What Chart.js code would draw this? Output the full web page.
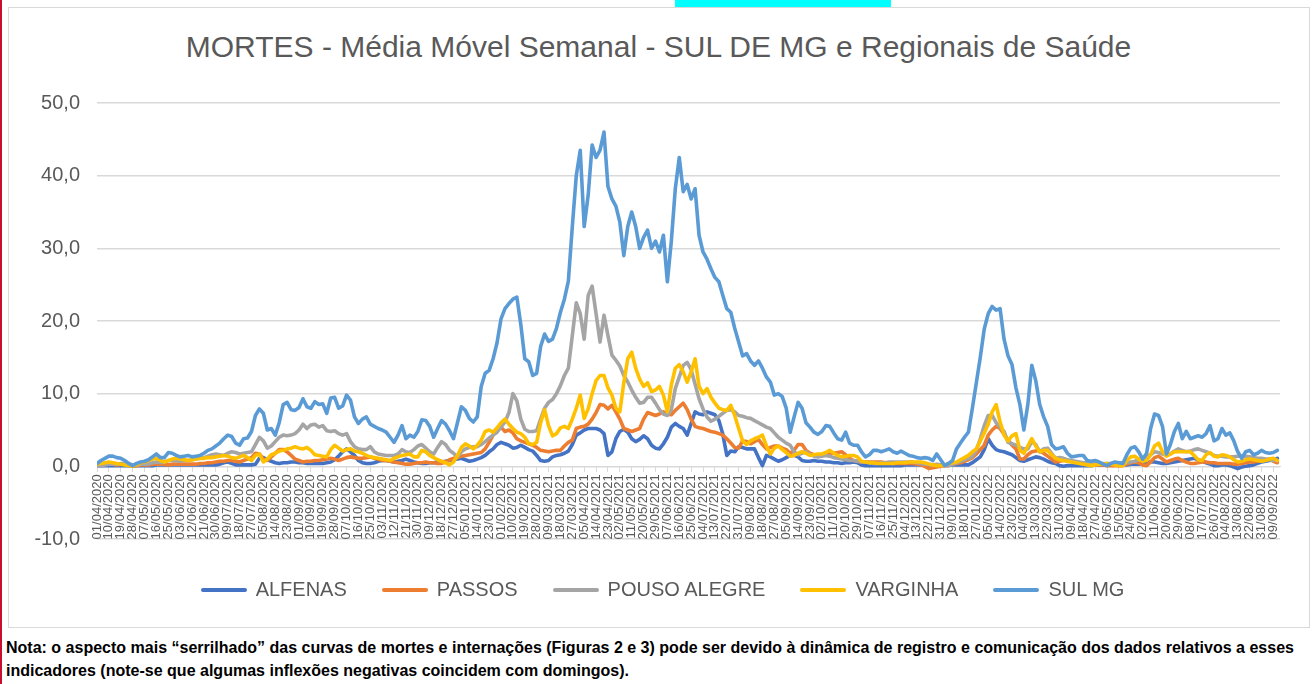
<!DOCTYPE html>
<html lang="pt-BR">
<head>
<meta charset="utf-8">
<title>MORTES - Média Móvel Semanal - SUL DE MG e Regionais de Saúde</title>
<script src="https://cdn.jsdelivr.net/npm/chart.js@4.4.1/dist/chart.umd.min.js"></script>
<style>
  html, body { margin:0; padding:0; background:#fff; }
  body { width:1312px; height:684px; position:relative; overflow:hidden; font-family:"Liberation Sans", Arial, sans-serif; }
  #redline { position:absolute; left:0; top:0; width:2px; height:684px; background:#C8102E; }
  #hdr { position:absolute; left:24px; top:-18px; font-weight:bold; font-size:17px; line-height:20px; color:#000; white-space:nowrap; }
  #hl { position:absolute; left:675px; top:0; width:216px; height:8px; background:#00FFFF; }
  #frame { position:absolute; left:8px; top:7px; width:1300px; height:619px; border:1.5px solid #D9D9D9; }
  #title { position:absolute; left:9px; top:30px; width:1299px; text-align:center; font-size:30px; color:#595959; white-space:nowrap; }
  #chart { position:absolute; left:9px; top:8px; }
  #legend { position:absolute; left:9px; top:578px; width:1307px; display:flex; justify-content:center; gap:35px; font-size:20px; color:#595959; }
  .item { display:flex; align-items:center; white-space:nowrap; }
  .sw { width:46px; height:4px; margin-right:9px; border-radius:2px; }
  #note { position:absolute; left:6px; top:636px; font-weight:bold; color:#000; line-height:23px; font-size:15px; }
  #note span { white-space:nowrap; }
</style>
</head>
<body>
<div id="redline"></div>
<div id="hdr">Figura 2 – Média móvel semanal de mortes por COVID-19: Regionais de Saúde (SRS),</div>
<div id="hl"></div>
<div id="frame"></div>
<div id="title">MORTES - Média Móvel Semanal - SUL DE MG e Regionais de Saúde</div>
<canvas id="chart" width="1299" height="619"></canvas>
<div id="legend"></div>
<div id="note"><span id="n1">Nota: o aspecto mais “serrilhado” das curvas de mortes e internações (Figuras 2 e 3) pode ser devido à dinâmica de registro e comunicação dos dados relativos a esses</span><br><span>indicadores (note-se que algumas inflexões negativas coincidem com domingos).</span></div>
<script>
// ---- Data (7-day moving average of deaths), sampled every 3 days from 01/04/2020 ----
const seriesNames = ["ALFENAS", "PASSOS", "POUSO ALEGRE", "VARGINHA", "SUL MG"];
const seriesColors = ["#4472C4", "#ED7D31", "#A5A5A5", "#FFC000", "#5B9BD5"];

const tickLabels = [
 "01/04/2020","10/04/2020","19/04/2020","28/04/2020","07/05/2020","16/05/2020","25/05/2020","03/06/2020","12/06/2020","21/06/2020",
 "30/06/2020","09/07/2020","18/07/2020","27/07/2020","05/08/2020","14/08/2020","23/08/2020","01/09/2020","10/09/2020","19/09/2020",
 "28/09/2020","07/10/2020","16/10/2020","25/10/2020","03/11/2020","12/11/2020","21/11/2020","30/11/2020","09/12/2020","18/12/2020",
 "27/12/2020","05/01/2021","14/01/2021","23/01/2021","01/02/2021","10/02/2021","19/02/2021","28/02/2021","09/03/2021","18/03/2021",
 "27/03/2021","05/04/2021","14/04/2021","23/04/2021","02/05/2021","11/05/2021","20/05/2021","29/05/2021","07/06/2021","16/06/2021",
 "25/06/2021","04/07/2021","13/07/2021","22/07/2021","31/07/2021","09/08/2021","18/08/2021","27/08/2021","05/09/2021","14/09/2021",
 "23/09/2021","02/10/2021","11/10/2021","20/10/2021","29/10/2021","07/11/2021","16/11/2021","25/11/2021","04/12/2021","13/12/2021",
 "22/12/2021","31/12/2021","09/01/2022","18/01/2022","27/01/2022","05/02/2022","14/02/2022","23/02/2022","04/03/2022","13/03/2022",
 "22/03/2022","31/03/2022","09/04/2022","18/04/2022","27/04/2022","06/05/2022","15/05/2022","24/05/2022","02/06/2022","11/06/2022",
 "20/06/2022","29/06/2022","08/07/2022","17/07/2022","26/07/2022","04/08/2022","13/08/2022","22/08/2022","31/08/2022","09/09/2022"
];

const alfenas = [
 0.1,0.1,0.1,0.1,0.1,0.1,0.1,0.1,0.1,0.0,
 0.1,0.1,0.1,0.1,0.1,0.2,0.2,0.2,0.2,0.2,
 0.2,0.2,0.2,0.2,0.2,0.2,0.2,0.2,0.2,0.2,
 0.2,0.3,0.5,0.6,0.4,0.2,0.2,0.2,0.2,0.2,
 0.3,1.1,1.2,0.9,0.7,0.5,0.4,0.5,0.5,0.6,
 0.6,0.5,0.5,0.4,0.4,0.4,0.4,0.4,0.5,0.6,
 0.9,1.4,2.0,2.4,2.0,1.5,0.8,0.5,0.4,0.4,
 0.5,0.7,0.8,0.8,0.7,0.6,0.7,0.8,1.0,0.8,
 0.6,0.5,0.4,0.4,0.5,0.5,0.6,0.6,0.7,0.8,
 0.9,1.0,1.1,0.9,0.7,0.8,1.0,1.2,1.5,2.0,
 2.4,3.0,3.3,3.1,2.9,2.5,2.6,2.9,2.6,2.3,
 2.1,1.5,0.8,0.7,0.8,1.3,1.5,1.6,1.8,2.1,
 3.0,4.3,4.6,5.0,5.2,5.2,5.2,5.0,4.5,1.5,
 2.0,3.8,4.8,5.1,4.7,3.8,3.4,3.7,4.2,3.8,
 2.9,2.5,2.4,3.1,4.0,5.4,5.9,5.5,5.2,4.3,
 5.9,7.5,7.2,7.1,7.5,7.3,7.1,6.3,4.4,1.5,
 2.1,2.0,2.7,2.6,2.4,2.4,2.4,1.2,0.1,1.5,
 1.3,1.0,0.7,0.9,1.2,1.5,1.5,1.3,0.8,0.7,
 0.7,0.8,0.7,0.7,0.6,0.6,0.5,0.5,0.4,0.5,
 0.5,0.6,0.5,0.2,0.1,0.1,0.1,0.1,0.1,0.1,
 0.1,0.1,0.1,0.1,0.2,0.2,0.2,0.2,0.2,0.2,
 0.2,0.2,0.2,0.2,0.2,0.2,0.2,0.2,0.2,0.2,
 0.2,0.5,0.9,1.3,2.3,3.8,2.9,2.3,2.1,2.0,
 1.8,1.6,1.2,0.8,0.7,0.9,1.1,1.3,1.2,1.0,
 0.7,0.5,0.4,0.1,0.0,0.1,0.1,0.1,0.1,0.1,
 0.1,0.1,0.2,0.2,0.2,0.2,0.2,0.2,0.2,0.2,
 0.2,0.3,0.3,0.3,0.4,0.5,0.6,0.6,0.5,0.4,
 0.4,0.5,0.6,0.7,0.8,0.9,1.0,1.1,0.9,0.7,
 0.5,0.3,0.1,0.1,0.2,0.2,0.1,-0.1,-0.3,-0.1,
 0.0,0.1,0.2,0.4,0.6,0.7,0.8,0.9,1.1
];

const passos = [
 0.2,0.2,0.3,0.3,0.3,0.2,0.3,0.3,0.2,0.1,
 0.1,0.2,0.2,0.2,0.3,0.3,0.3,0.3,0.2,0.3,
 0.3,0.3,0.3,0.3,0.3,0.3,0.4,0.4,0.5,0.5,
 0.6,0.7,0.7,0.8,0.8,0.7,0.6,0.8,1.0,1.2,
 1.8,1.7,1.0,0.8,1.3,1.8,2.3,2.3,2.0,1.5,
 1.0,0.8,0.6,0.7,0.7,0.8,0.8,0.9,1.0,1.1,
 1.0,0.8,1.0,1.2,1.3,1.2,1.1,1.1,1.2,1.3,
 1.1,1.0,0.8,0.8,0.7,0.6,0.5,0.4,0.3,0.3,
 0.4,0.5,0.5,0.6,0.5,0.5,0.4,0.4,0.6,0.9,
 1.1,1.2,1.4,1.5,1.6,1.7,1.8,1.9,2.4,3.3,
 4.3,5.1,5.4,4.8,5.0,4.6,3.8,3.5,3.3,3.1,
 2.9,2.6,2.2,2.1,2.0,2.1,2.2,2.2,2.8,3.3,
 3.6,5.2,5.4,5.5,5.8,6.5,7.4,8.5,8.4,7.9,
 8.4,7.5,6.5,5.2,5.0,4.8,5.0,5.2,6.5,7.4,
 7.2,7.0,7.2,7.5,7.2,7.1,7.7,8.2,8.7,7.8,
 6.5,5.5,5.3,5.2,5.0,4.8,4.7,4.5,4.3,3.8,
 3.2,2.6,2.5,3.5,3.4,3.1,3.4,3.7,3.0,2.4,
 2.6,2.8,2.8,2.5,2.3,1.8,2.2,3.0,3.0,2.2,
 1.8,1.6,1.5,1.6,1.6,1.7,1.8,1.9,2.0,1.6,
 1.1,0.8,0.7,0.6,0.6,0.6,0.6,0.6,0.6,0.5,
 0.5,0.4,0.4,0.4,0.4,0.4,0.4,0.3,0.2,0.0,
 -0.3,-0.2,-0.1,0.0,0.1,0.1,0.3,0.4,0.5,0.7,
 0.9,1.2,1.7,2.3,2.9,4.3,5.0,5.5,5.2,4.4,
 3.6,2.9,2.4,1.0,1.0,1.6,2.0,2.1,2.2,1.8,
 1.4,1.0,0.6,0.7,0.8,0.8,0.7,0.6,0.5,0.5,
 0.4,0.3,0.3,0.2,0.2,0.1,0.1,0.1,0.1,0.1,
 0.3,0.5,0.6,0.5,0.2,0.1,0.6,1.2,1.4,1.0,
 0.6,0.8,1.0,1.1,0.8,0.6,0.4,0.4,0.5,0.6,
 0.6,0.5,0.5,0.4,0.4,0.4,0.4,0.3,0.3,0.4,
 0.5,0.6,0.6,0.7,0.8,0.9,1.0,0.7,0.5
];

const pousoAlegre = [
 0.1,0.1,0.2,0.3,0.3,0.3,0.4,0.4,0.3,0.2,
 0.2,0.3,0.3,0.3,0.5,0.6,0.5,0.6,0.8,0.8,
 0.8,0.7,0.8,0.8,0.9,1.0,1.1,1.2,1.4,1.6,
 1.7,1.6,1.5,1.8,2.0,1.9,1.7,1.8,1.9,2.0,
 3.0,4.0,3.5,2.5,2.8,3.4,4.0,4.3,4.2,4.3,
 4.5,5.0,5.8,5.2,5.7,5.8,5.4,5.6,4.9,4.8,
 4.9,4.5,4.3,4.5,3.4,2.7,2.4,2.3,2.3,2.7,
 2.0,1.7,1.6,1.5,1.5,1.5,1.7,2.3,2.0,1.9,
 2.3,2.8,3.0,2.5,2.0,1.7,2.6,3.4,3.0,2.2,
 1.8,1.3,2.0,2.4,2.6,2.7,2.7,3.0,3.4,3.9,
 4.3,4.7,5.4,6.1,7.4,10.0,9.0,6.5,5.1,4.8,
 4.8,4.9,6.5,8.0,8.8,9.2,10.0,11.1,12.5,13.5,
 18.0,22.5,21.0,17.5,23.5,24.8,21.0,17.1,20.8,18.0,
 15.3,14.6,13.8,12.5,11.6,10.5,9.5,8.7,8.8,9.5,
 9.5,8.7,7.8,7.2,7.0,7.8,10.7,12.3,13.9,14.3,
 13.3,11.3,9.3,7.9,6.8,6.2,6.5,6.9,7.3,7.7,
 7.8,7.5,7.0,6.9,6.7,6.6,6.3,6.0,5.7,5.4,
 5.2,4.6,4.0,3.6,3.2,2.9,2.0,1.6,1.8,2.0,
 1.6,1.4,1.3,1.4,1.5,1.4,1.2,1.1,1.0,0.9,
 0.8,0.8,0.7,0.6,0.6,0.5,0.4,0.4,0.5,0.5,
 0.6,0.6,0.6,0.6,0.6,0.6,0.6,0.5,0.4,0.3,
 0.3,0.2,0.3,0.2,0.2,0.1,0.3,0.5,0.7,0.9,
 1.1,1.4,2.2,3.8,5.6,7.0,7.0,6.0,5.4,4.8,
 3.3,3.1,2.9,2.6,2.4,2.4,3.4,3.0,2.0,2.4,
 2.5,1.8,1.1,1.2,1.1,0.9,0.8,0.7,0.6,0.5,
 0.4,0.4,0.4,0.4,0.4,0.4,0.4,0.4,0.5,0.5,
 0.5,0.6,0.7,0.9,1.1,1.3,1.6,2.0,1.9,1.7,
 1.5,1.7,2.1,2.4,2.2,2.0,2.1,2.3,2.4,2.2,
 2.0,1.8,1.5,1.4,1.4,1.3,1.3,1.3,1.4,1.4,
 1.4,1.3,1.2,1.1,1.1,1.0,0.9,0.8,0.8
];

const varginha = [
 0.3,0.4,0.5,0.6,0.5,0.4,0.3,0.2,0.1,0.0,
 0.2,0.5,0.6,0.8,1.0,1.1,0.8,0.6,0.8,1.0,
 1.1,1.0,0.9,0.8,0.9,1.0,1.1,1.1,1.2,1.2,
 1.3,1.4,1.5,1.4,1.2,1.1,1.3,1.5,1.2,0.8,
 1.5,1.7,0.6,1.0,1.6,1.8,2.1,2.2,2.4,2.5,
 2.7,2.5,2.4,2.6,2.2,1.6,1.5,1.4,1.3,2.3,
 2.9,2.5,2.1,2.3,2.4,2.1,2.0,1.8,1.5,1.3,
 1.2,1.1,1.0,0.9,0.8,1.1,1.3,1.5,1.6,1.7,
 1.3,1.3,2.2,2.0,1.5,1.2,0.9,0.7,0.5,0.2,
 0.6,1.5,2.6,3.1,2.8,2.4,2.9,3.6,4.8,5.0,
 4.7,5.3,6.0,6.5,5.8,5.2,4.7,4.5,4.0,3.1,
 3.0,3.3,6.0,7.8,5.6,4.2,4.5,5.3,5.5,5.2,
 6.5,8.0,9.8,6.6,7.9,10.0,11.8,12.5,12.5,10.8,
 9.8,8.0,7.5,11.5,14.8,15.7,13.5,12.0,11.0,11.5,
 10.3,10.5,11.0,9.8,7.5,11.2,13.5,14.0,13.0,11.6,
 13.0,14.8,11.0,10.0,10.7,9.5,8.7,8.0,7.8,7.7,
 8.4,7.0,5.2,3.5,3.0,3.5,3.8,4.0,4.3,2.8,
 1.7,2.5,2.8,2.3,1.9,1.4,1.5,1.8,2.0,1.8,
 1.5,1.6,1.7,1.7,1.9,2.2,1.8,1.5,1.3,1.4,
 1.5,1.5,1.3,0.7,0.6,0.5,0.5,0.4,0.4,0.4,
 0.4,0.4,0.5,0.5,0.5,0.6,0.6,0.6,0.6,0.5,
 0.3,0.2,0.1,0.1,0.2,0.4,0.5,0.6,0.9,1.2,
 1.5,2.0,2.4,3.5,4.6,5.8,7.5,8.5,6.1,4.3,
 3.5,4.2,4.5,2.2,1.8,2.8,3.8,2.8,2.0,2.2,
 2.2,1.6,1.1,0.9,0.8,0.7,0.6,0.5,0.4,0.3,
 0.2,0.1,0.2,0.3,0.3,0.4,0.3,0.2,0.1,0.1,
 0.8,1.3,1.4,1.0,0.7,0.8,1.6,2.8,3.2,2.0,
 1.4,1.7,2.0,2.0,2.0,2.0,2.0,1.5,0.9,0.8,
 1.6,1.9,1.4,1.3,1.6,1.5,1.3,0.9,0.6,0.7,
 0.9,1.0,0.9,0.8,0.7,0.8,1.0,1.1,0.8
];

const sulMG = [
 0.4,0.8,1.1,1.4,1.4,1.2,1.1,0.8,0.4,0.1,
 0.4,0.6,0.7,0.9,1.3,1.7,1.2,1.2,1.9,1.8,
 1.5,1.3,1.4,1.5,1.3,1.4,1.5,1.8,2.2,2.4,
 2.8,3.2,3.8,4.3,4.1,3.2,2.9,3.8,3.9,4.8,
 7.0,7.9,7.3,5.0,5.2,4.3,6.0,8.5,8.8,7.8,
 7.7,8.1,9.3,8.2,8.0,8.9,8.5,8.6,7.3,9.4,
 9.5,8.0,8.3,9.8,9.1,6.8,5.9,6.5,6.8,5.8,
 5.5,5.2,5.0,4.7,4.0,3.3,4.3,5.6,3.8,4.3,
 4.0,4.8,6.4,6.3,5.5,4.0,5.2,6.3,5.8,4.9,
 3.8,6.0,8.2,7.7,6.6,6.1,6.8,11.0,12.8,13.2,
 14.8,17.0,20.3,21.7,22.4,23.0,23.3,19.5,14.8,14.4,
 12.5,12.8,16.5,18.2,17.2,17.5,19.0,21.2,23.0,25.5,
 33.0,40.0,43.5,33.0,37.3,44.2,42.5,43.5,46.0,38.5,
 36.8,35.8,33.6,29.0,33.0,35.0,33.0,30.0,31.5,32.5,
 30.0,31.0,29.5,31.8,25.4,31.0,38.2,42.5,37.8,38.8,
 36.8,38.2,31.8,29.5,28.5,27.2,26.0,25.4,23.5,21.7,
 21.2,19.0,17.1,15.2,15.5,14.5,13.9,14.5,13.5,12.3,
 11.6,9.8,10.0,9.6,8.0,4.7,6.8,8.8,8.0,6.0,
 5.4,4.7,4.4,4.8,5.6,5.5,4.6,3.8,3.6,4.7,
 3.2,2.9,2.9,2.0,1.3,1.6,2.2,2.2,2.0,2.2,
 2.4,2.0,1.8,2.1,1.8,1.5,1.4,1.2,1.1,1.2,
 1.1,0.8,1.7,0.9,0.1,0.4,0.8,2.4,3.2,4.0,
 4.7,8.0,11.5,15.0,18.9,21.0,22.0,21.5,21.7,17.5,
 15.2,14.0,10.8,8.5,5.0,8.5,13.9,11.8,8.5,6.8,
 5.5,3.0,2.4,2.5,2.7,1.8,1.3,1.4,1.5,1.5,
 0.8,0.7,0.8,0.6,0.3,0.1,0.4,0.6,0.5,0.4,
 1.6,2.5,2.7,2.0,1.0,1.8,5.2,7.2,7.0,5.5,
 1.7,3.0,4.8,5.9,3.8,4.8,3.8,4.0,4.2,4.0,
 4.5,5.6,3.5,3.8,5.2,4.3,4.6,3.5,2.0,1.1,
 2.0,2.2,1.6,1.8,2.2,1.9,1.8,1.9,2.2
];

// day index (days since 01/04/2020) of each sample above: one sample every 3 days
const sampleStepDays = 3;
const days = sulMG.map((_, i) => i * sampleStepDays);
const tickStepDays = 9;
const lastDay = 896;

const seriesValues = [alfenas, passos, pousoAlegre, varginha, sulMG];

// ---- legend (HTML) ----
const legendEl = document.getElementById('legend');
seriesNames.forEach((name, i) => {
  const it = document.createElement('div'); it.className = 'item';
  const sw = document.createElement('div'); sw.className = 'sw'; sw.style.background = seriesColors[i];
  const tx = document.createElement('span'); tx.textContent = name;
  it.appendChild(sw); it.appendChild(tx); legendEl.appendChild(it);
});

// ---- fit note font so that the first line spans the page ----
(function(){
  const n1 = document.getElementById('n1');
  const w = n1.getBoundingClientRect().width;
  const fs = 15 * 1289 / w;
  document.getElementById('note').style.fontSize = fs.toFixed(2) + 'px';
})();

const FONT = '"Liberation Sans", Arial, sans-serif';

const datasets = seriesNames.map((name, i) => ({
  label: name,
  data: days.map((d, k) => ({ x: d, y: seriesValues[i][k] })),
  borderColor: seriesColors[i],
  backgroundColor: seriesColors[i],
  borderWidth: 3.6,
  pointRadius: 0,
  pointHoverRadius: 0,
  tension: 0,
  fill: false,
  borderJoinStyle: 'round',
  borderCapStyle: 'round',
  order: seriesNames.length - i
}));

new Chart(document.getElementById('chart'), {
  type: 'line',
  data: { datasets },
  options: {
    responsive: false,
    animation: false,
    devicePixelRatio: 1,
    layout: { padding: { left: 0, top: 95, right: 28, bottom: 88 } },
    plugins: { legend: { display: false }, title: { display: false }, tooltip: { enabled: false } },
    scales: {
      x: {
        type: 'linear',
        min: 0,
        max: lastDay,
        position: { y: 0 },
        afterBuildTicks: (scale) => { scale.ticks = tickLabels.map((_, i) => ({ value: i * tickStepDays })); },
        ticks: {
          autoSkip: false,
          minRotation: 90,
          maxRotation: 90,
          padding: 3,
          color: '#595959',
          font: { family: FONT, size: 13 },
          callback: (v, i) => tickLabels[i]
        },
        grid: { drawOnChartArea: false, drawTicks: true, tickLength: 5, color: '#D9D9D9' },
        border: { display: true, color: '#D9D9D9', width: 1 }
      },
      y: {
        min: -10,
        max: 50,
        afterFit: (scale) => { scale.width = 88; },
        ticks: {
          stepSize: 10,
          padding: 17,
          color: '#595959',
          font: { family: FONT, size: 20 },
          callback: (v) => v.toFixed(1).replace('.', ',')
        },
        grid: { color: '#D9D9D9', lineWidth: 1.5, drawTicks: false },
        border: { display: false }
      }
    }
  }
});
</script>
</body>
</html>
